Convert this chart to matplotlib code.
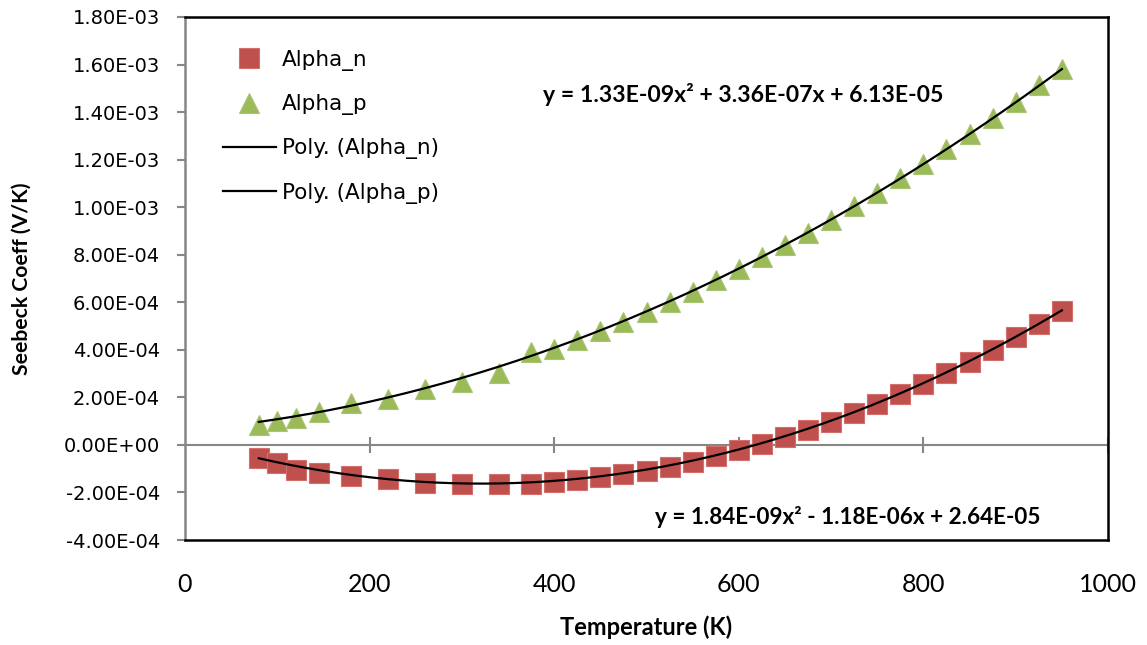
import matplotlib
matplotlib.use('Agg')
import matplotlib.pyplot as plt
import numpy as np
from matplotlib import font_manager
from matplotlib.ticker import FuncFormatter, MultipleLocator

# measured Seebeck coefficients (V/K) vs temperature (K)
temperature = [80, 100, 120, 145, 180, 220, 260, 300, 340, 375, 400, 425, 450,
               475, 500, 525, 550, 575, 600, 625, 650, 675, 700, 725, 750, 775,
               800, 825, 850, 875, 900, 925, 950]
alpha_n = [-5.3e-5, -7.4e-5, -1.05e-4, -1.17e-4, -1.29e-4, -1.44e-4, -1.60e-4,
           -1.64e-4, -1.64e-4, -1.64e-4, -1.56e-4, -1.46e-4, -1.36e-4, -1.23e-4,
           -1.09e-4, -9.3e-5, -7.2e-5, -4.8e-5, -2.2e-5, 3e-6, 3.4e-5, 6.4e-5,
           9.7e-5, 1.33e-4, 1.72e-4, 2.13e-4, 2.56e-4, 3.02e-4, 3.49e-4, 3.99e-4,
           4.52e-4, 5.07e-4, 5.63e-4]
alpha_p = [8.5e-5, 1.01e-4, 1.15e-4, 1.40e-4, 1.76e-4, 1.95e-4, 2.36e-4, 2.63e-4,
           3.04e-4, 3.92e-4, 4.02e-4, 4.42e-4, 4.80e-4, 5.19e-4, 5.59e-4, 6.01e-4,
           6.45e-4, 6.92e-4, 7.40e-4, 7.89e-4, 8.39e-4, 8.91e-4, 9.47e-4, 1.003e-3,
           1.061e-3, 1.121e-3, 1.183e-3, 1.245e-3, 1.309e-3, 1.375e-3, 1.442e-3,
           1.512e-3, 1.582e-3]

# 2nd order polynomial trendlines (highest power first)
coef_n = [1.84e-9, -1.18e-6, 2.64e-5]
coef_p = [1.33e-9, 3.36e-7, 6.13e-5]

xticks = [0, 200, 400, 600, 800, 1000]

RED = '#C0504D'
GREEN = '#9BBB59'
GREY = '#868686'

installed = {f.name for f in font_manager.fontManager.ttflist}
NARROW = 'Liberation Sans Narrow' if 'Liberation Sans Narrow' in installed else 'Lato'


def equation(c):
    s = 'y = %.2Ex\u00b2' % c[0]
    s += (' + ' if c[1] >= 0 else ' - ') + '%.2Ex' % abs(c[1])
    s += (' + ' if c[2] >= 0 else ' - ') + '%.2E' % abs(c[2])
    return s


fig = plt.figure(figsize=(11.47, 6.45), dpi=100)
ax = fig.add_axes([185/1147, 105/645, 923/1147, 523/645])

ax.plot(temperature, alpha_n, ls='none', marker='s', ms=14, color=RED,
        mec='#D46F6C', mew=0.8, label='Alpha_n', zorder=3)
ax.plot(temperature, alpha_p, ls='none', marker='^', ms=15, color=GREEN,
        mec='#A9C474', mew=0.8, label='Alpha_p', zorder=3)

xf = np.linspace(min(temperature), max(temperature), 300)
ax.plot(xf, np.polyval(coef_n, xf), color='black', lw=1.6,
        label='Poly. (Alpha_n)', zorder=4)
ax.plot(xf, np.polyval(coef_p, xf), color='black', lw=1.6,
        label='Poly. (Alpha_p)', zorder=4)

ax.text(388, 1.474e-3, equation(coef_p), fontsize=16.6, fontweight='bold',
        family='Lato', ha='left', va='center')
ax.text(509, -3.03e-4, equation(coef_n), fontsize=16.2, fontweight='bold',
        family='Lato', ha='left', va='center')

ax.set_xlim(0, 1000)
ax.set_ylim(-4e-4, 1.8e-3)
ax.set_xticks(xticks)
ax.yaxis.set_major_locator(MultipleLocator(2e-4))
ax.yaxis.set_major_formatter(FuncFormatter(lambda v, p: '%.2E' % v))

# horizontal axis crosses at y = 0
ax.axhline(0, color=GREY, lw=1.5, zorder=1)
ax.plot(xticks[1:], np.zeros(len(xticks) - 1), ls='none', marker='|', ms=11,
        mew=1.5, color=GREY, zorder=1)

for side in ['top', 'right', 'bottom']:
    ax.spines[side].set_color('black')
    ax.spines[side].set_linewidth(1.8)
ax.spines['left'].set_color(GREY)
ax.spines['left'].set_linewidth(1.8)

ax.tick_params(axis='y', direction='out', length=6, width=1.5, color=GREY,
               pad=12, labelsize=14, labelfontfamily='DejaVu Sans')
ax.tick_params(axis='x', length=0, pad=24, labelsize=18,
               labelfontfamily=NARROW)

ax.set_xlabel('Temperature (K)', family=NARROW, fontsize=17,
              fontweight='bold', labelpad=14)
ax.set_ylabel('Seebeck Coeff (V/K)', family='Lato', fontsize=15.2,
              fontweight='bold')
ax.yaxis.set_label_coords(-0.166, 0.5)

ax.legend(loc='upper left', bbox_to_anchor=(0.041, 0.937), frameon=False,
          prop={'family': 'DejaVu Sans', 'size': 15.5}, handlelength=2.45,
          handletextpad=0.3, labelspacing=1.08, borderpad=0, borderaxespad=0)

fig.savefig('out.png', dpi=100)
